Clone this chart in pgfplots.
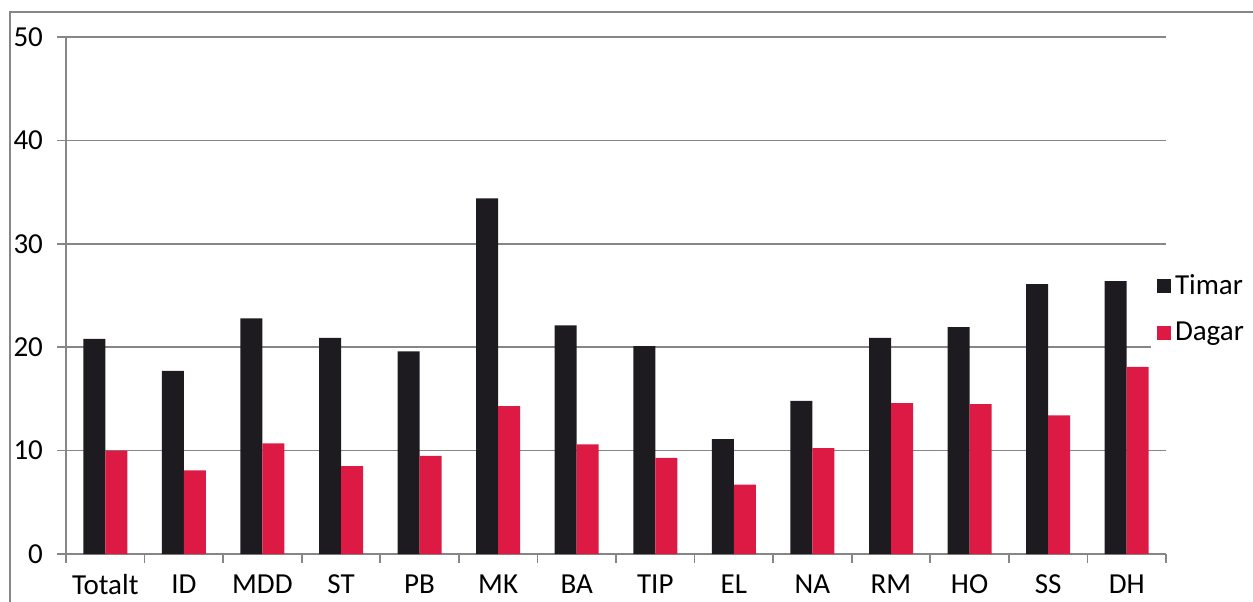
\documentclass[border=0pt]{standalone}
\usepackage{fontspec}
\setmainfont{Carlito}
\usepackage{pgfplots}
\pgfplotsset{compat=1.18}
\definecolor{timar}{RGB}{29,27,31}
\definecolor{dagar}{RGB}{221,26,67}
\definecolor{linegray}{RGB}{134,134,134}
\begin{document}
\fontsize{14.5}{17}\selectfont
\begin{tikzpicture}
\begin{axis}[
    scale only axis,
    width=550pt, height=258.5pt,
    ybar=0pt, bar width=11pt,
    xmin=-0.5, xmax=13.5,
    ymin=0, ymax=50,
    ytick={0,10,...,50},
    xtick={0,...,13},
    xticklabels={Totalt,ID,MDD,ST,PB,MK,BA,TIP,EL,NA,RM,HO,SS,DH},
    minor xtick={-0.5,0.5,...,13.5},
    axis x line=bottom, axis y line=left,
    axis line style={-, draw=linegray, line width=0.8pt},
    ymajorgrids, major grid style={draw=linegray, line width=0.8pt},
    tick align=outside,
    major tick length=4.5pt, minor tick length=4.5pt,
    major x tick style={draw=none},
    minor x tick style={draw=linegray, line width=0.8pt},
    y tick style={draw=linegray, line width=0.8pt},
    /pgf/number format/assume math mode=true,
    tick label style={font=\fontsize{14.5}{17}\selectfont},
    xticklabel style={inner sep=0pt, text depth=0pt, yshift=-5.6pt},
    yticklabel style={xshift=-2pt},
    legend style={draw=none, at={(0.986,0.473)}, anchor=west,
        font=\fontsize{14.5}{17}\selectfont, row sep=7.5pt},
    legend cell align=left,
    legend image code/.code={\fill[#1] (0pt,-3.5pt) rectangle (7pt,3.5pt);},
]
\addplot[fill=timar, draw=none] coordinates {
(0,20.8) (1,17.7) (2,22.8) (3,20.9) (4,19.6) (5,34.4) (6,22.1)
(7,20.1) (8,11.1) (9,14.8) (10,20.9) (11,21.95) (12,26.1) (13,26.4)
};
\addplot[fill=dagar, draw=none] coordinates {
(0,10.0) (1,8.1) (2,10.7) (3,8.5) (4,9.5) (5,14.3) (6,10.6)
(7,9.3) (8,6.7) (9,10.25) (10,14.6) (11,14.5) (12,13.4) (13,18.1)
};
\legend{Timar,Dagar}
\end{axis}
\draw[linegray, line width=0.8pt] (-28pt,-40pt) -- (-28pt,271pt) -- (640pt,271pt);
\pgfresetboundingbox
\path[use as bounding box] (-33pt,-23.5pt) rectangle (593.5pt,277pt);
\end{tikzpicture}
\end{document}
